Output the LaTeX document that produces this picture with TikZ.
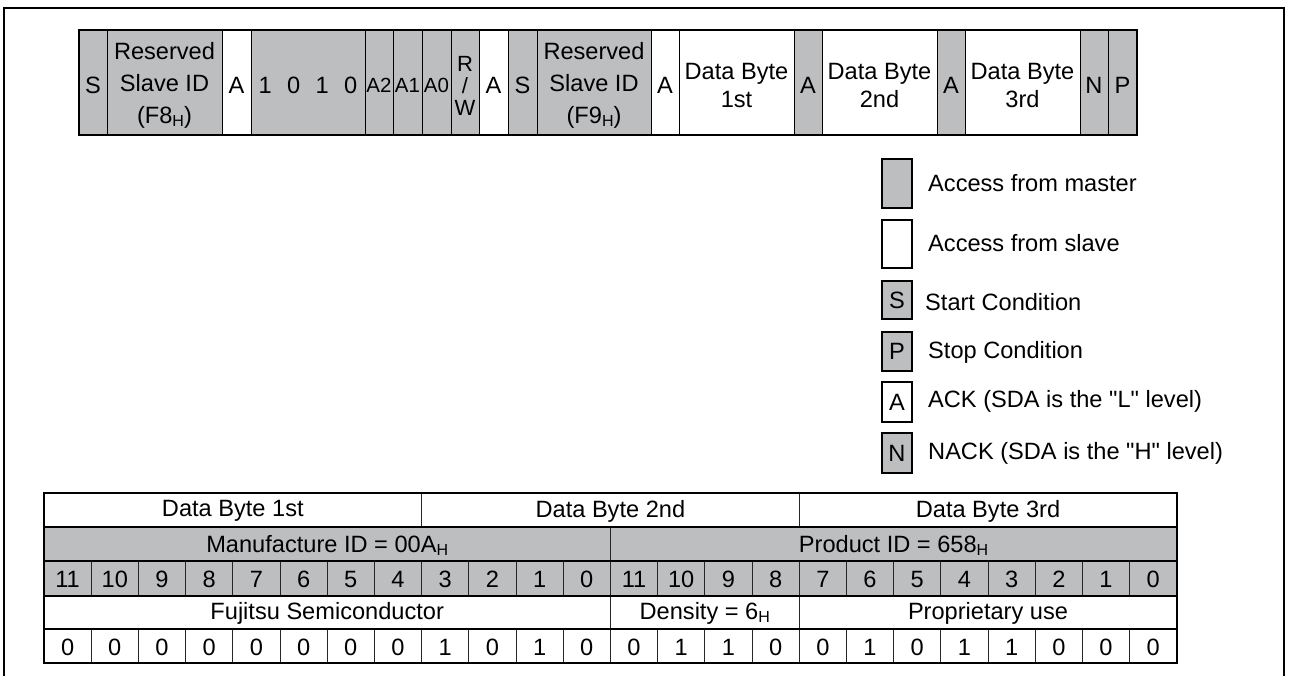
\documentclass[tikz,border=0pt]{standalone}
\usepackage{fontspec}
\setmainfont{Liberation Sans}[Ligatures=TeXOff]
\definecolor{cellgray}{RGB}{189,190,192}
\newcommand{\hsub}{\raisebox{-3pt}{\fontsize{16}{16}\selectfont H}}
\def\tdrop{0}
\newcommand{\Cbox}[7]{%
  \node[#2, minimum width={(#4)-(#3)}, minimum height={(#6)-(#5)}] (#1) at ({((#3)+(#4))/2},{((#5)+(#6))/2}) {};
  \node[#2, draw=none, fill=none, minimum width=0pt, minimum height=0pt] (#1-t) at ([yshift=-\tdrop pt]#1.center) {#7};}
\tikzset{
  cellbase/.style={draw=black, line width=0.9pt, inner sep=0pt, outer sep=0pt, align=center, font=\fontsize{23.6}{32}\selectfont},
  gcell/.style={cellbase, fill=cellgray},
  wcell/.style={cellbase, fill=white},
  smallcell/.style={font=\fontsize{20.5}{24}\selectfont},
  rwcell/.style={font=\fontsize{22}{22}\selectfont},
  twoline/.style={font=\fontsize{23.6}{28}\selectfont},
  tcell/.style={draw=black!85, line width=0.9pt, inner sep=0pt, outer sep=0pt, font=\fontsize{23.6}{28}\selectfont},
  tg/.style={tcell, fill=cellgray},
  tw/.style={tcell, fill=white},
  border/.style={line width=2pt, draw=black},
  legbox/.style={draw=black, line width=1.6pt, inner sep=0pt, outer sep=0pt, font=\fontsize{23.6}{28}\selectfont},
  legtext/.style={anchor=west, inner sep=0pt, font=\fontsize{23.6}{28}\selectfont},
}
\begin{document}
\begin{tikzpicture}[x=1pt,y=-1pt]
\useasboundingbox (0,0) rectangle (1289,675);
% outer frame
\draw[line width=2pt] (4,676) -- (4,8) -- (1284,8) -- (1284,676);

% ---------- top bar ----------
\def\tdrop{3}
\Cbox{s1}{gcell}{79}{107}{30}{135}{S}
\Cbox{rid1}{gcell}{107}{222}{30}{135}{Reserved\\Slave ID\\(F8\hsub)}
\Cbox{ak1}{wcell}{222}{251}{30}{135}{A}
\Cbox{bits}{gcell}{251}{365}{30}{135}{1\hspace{15.4pt}0\hspace{15.4pt}1\hspace{15.4pt}0}
\Cbox{aa2}{gcell,smallcell}{365}{393}{30}{135}{A2}
\Cbox{aa1}{gcell,smallcell}{393}{422}{30}{135}{A1}
\Cbox{aa0}{gcell,smallcell}{422}{451}{30}{135}{A0}
\Cbox{rw}{gcell,rwcell}{451}{479}{30}{135}{R\\/\\W}
\Cbox{ak2}{wcell}{479}{508}{30}{135}{A}
\Cbox{s2}{gcell}{508}{537}{30}{135}{S}
\Cbox{rid2}{gcell}{537}{651}{30}{135}{Reserved\\Slave ID\\(F9\hsub)}
\Cbox{ak3}{wcell}{651}{679}{30}{135}{A}
\Cbox{db1}{wcell,twoline}{679}{794}{30}{135}{Data Byte\\1st}
\Cbox{ak4}{gcell}{794}{822}{30}{135}{A}
\Cbox{db2}{wcell,twoline}{822}{937}{30}{135}{Data Byte\\2nd}
\Cbox{ak5}{gcell}{937}{965}{30}{135}{A}
\Cbox{db3}{wcell,twoline}{965}{1080}{30}{135}{Data Byte\\3rd}
\Cbox{nk}{gcell}{1080}{1108}{30}{135}{N}
\Cbox{pp}{gcell}{1108}{1137}{30}{135}{P}
\draw[border] (s1.north west) rectangle (pp.south east);

% ---------- legend ----------
\node[legbox, fill=cellgray, minimum width=30, minimum height=49] (lgm) at (897,183.5) {};
\node[legtext] (lgmt) at (928,183) {Access from master};
\node[legbox, fill=white, minimum width=30, minimum height=48] (lgs) at (897,244) {};
\node[legtext] (lgst) at (928,243) {Access from slave};
\node[legbox, fill=cellgray, minimum width=30, minimum height=38] (lgS) at (897,300) {S};
\node[legtext] (lgSt) at (925,302) {Start Condition};
\node[legbox, fill=cellgray, minimum width=30, minimum height=39] (lgP) at (897,351.5) {P};
\node[legtext] (lgPt) at (928,352) {Stop Condition};
\node[legbox, fill=white, minimum width=30, minimum height=40] (lgA) at (897,402) {A};
\node[legtext] (lgAt) at (928,401) {ACK (SDA is the "L" level)};
\node[legbox, fill=cellgray, minimum width=30, minimum height=40] (lgN) at (897,453) {N};
\node[legtext] (lgNt) at (928,453) {NACK (SDA is the "H" level)};

% ---------- table ----------
\def\tdrop{1}
\def\cw{47.2}
\def\tx{44}
% row 1
\Cbox{hd1}{tw}{\tx}{\tx+8*\cw}{493}{527}{Data Byte 1st}
\Cbox{hd2}{tw}{\tx+8*\cw}{\tx+16*\cw}{493}{527}{Data Byte 2nd}
\Cbox{hd3}{tw}{\tx+16*\cw}{\tx+24*\cw}{493}{527}{Data Byte 3rd}
% row 2
\Cbox{mid}{tg}{\tx}{\tx+12*\cw}{527}{561}{Manufacture ID = 00A\hsub}
\Cbox{pid}{tg}{\tx+12*\cw}{\tx+24*\cw}{527}{561}{Product ID = 658\hsub}
% row 3
\foreach \i/\t in {0/11,1/10,2/9,3/8,4/7,5/6,6/5,7/4,8/3,9/2,10/1,11/0,12/11,13/10,14/9,15/8,16/7,17/6,18/5,19/4,20/3,21/2,22/1,23/0}{
  \Cbox{bn\i}{tg}{\tx+\i*\cw}{\tx+(\i+1)*\cw}{561}{596}{\t}
}
% row 4
\Cbox{fs}{tw}{\tx}{\tx+12*\cw}{596}{629}{Fujitsu Semiconductor}
\Cbox{den}{tw}{\tx+12*\cw}{\tx+16*\cw}{596}{629}{Density = 6\hsub}
\Cbox{prop}{tw}{\tx+16*\cw}{\tx+24*\cw}{596}{629}{Proprietary use}
% row 5
\foreach \i/\t in {0/0,1/0,2/0,3/0,4/0,5/0,6/0,7/0,8/1,9/0,10/1,11/0,12/0,13/1,14/1,15/0,16/0,17/1,18/0,19/1,20/1,21/0,22/0,23/0}{
  \Cbox{bv\i}{tw}{\tx+\i*\cw}{\tx+(\i+1)*\cw}{629}{663}{\t}
}
\draw[border] (hd1.north west) rectangle (bv23.south east);
\draw[line width=1.3pt] (mid.north west) -- (pid.north east);
\draw[line width=1.3pt] (bn0.north west) -- (bn23.north east);
\draw[line width=1.3pt] (fs.north west) -- (prop.north east);
\draw[line width=1.3pt] (bv0.north west) -- (bv23.north east);
\end{tikzpicture}
\end{document}
